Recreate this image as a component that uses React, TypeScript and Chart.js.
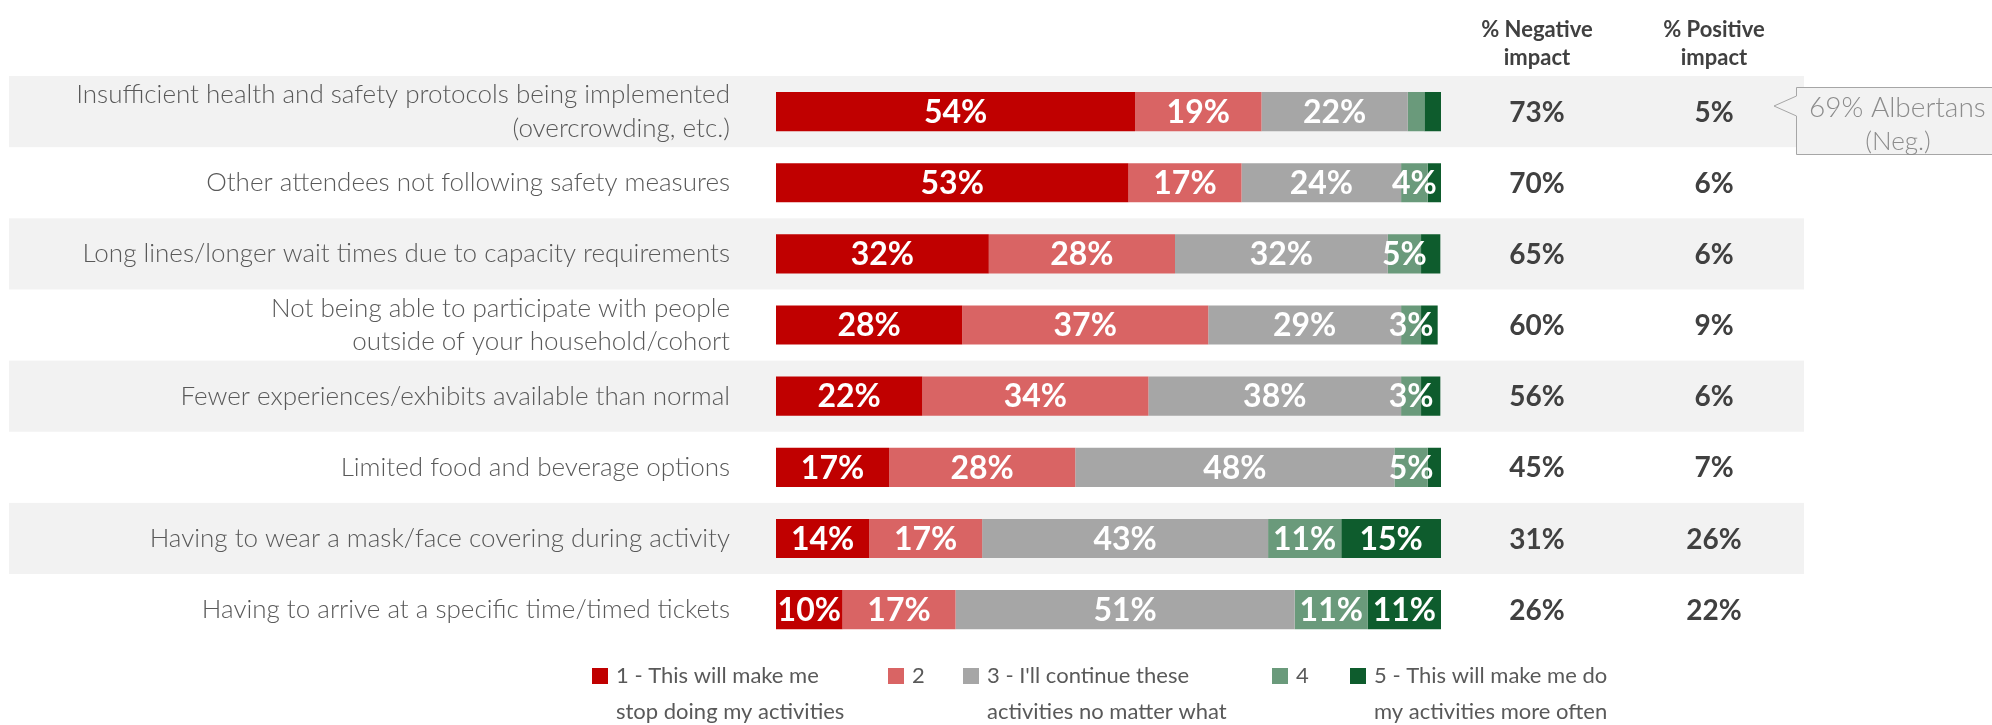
import React, { useEffect, useRef } from "react";
import { Chart, registerables } from "chart.js";

Chart.register(...registerables);

const CATEGORIES: (string | string[])[] = [
  ["Insufficient health and safety protocols being implemented", "(overcrowding, etc.)"],
  "Other attendees not following safety measures",
  "Long lines/longer wait times due to capacity requirements",
  ["Not being able to participate with people", "outside of your household/cohort"],
  "Fewer experiences/exhibits available than normal",
  "Limited food and beverage options",
  "Having to wear a mask/face covering during activity",
  "Having to arrive at a specific time/timed tickets",
];

const SCORE_1 = [54, 53, 32, 28, 22, 17, 14, 10];
const SCORE_2 = [19, 17, 28, 37, 34, 28, 17, 17];
const SCORE_3 = [22, 24, 32, 29, 38, 48, 43, 51];
const SCORE_4 = [2.5, 4, 5, 3, 3, 5, 11, 11];
const SCORE_5 = [2.5, 2, 2.9, 2.5, 2.9, 2, 15, 11];

const NEGATIVE_IMPACT = ["73%", "70%", "65%", "60%", "56%", "45%", "31%", "26%"];
const POSITIVE_IMPACT = ["5%", "6%", "6%", "9%", "6%", "7%", "26%", "22%"];

const COLUMN_HEADERS = [["% Negative", "impact"], ["% Positive", "impact"]];
const CALLOUT_LINES = ["69% Albertans", "(Neg.)"];

const SERIES_NAMES: string[][] = [
  ["1 - This will make me", "stop doing my activities"],
  ["2"],
  ["3 - I'll continue these", "activities no matter what"],
  ["4"],
  ["5 - This will make me do", "my activities more often"],
];
const SERIES_VALUES = [SCORE_1, SCORE_2, SCORE_3, SCORE_4, SCORE_5];
const SERIES_COLORS = ["#C00000", "#D96464", "#A6A6A6", "#6A9A7B", "#0E5C2D"];

// layout constants
const W = 1992;
const H = 725;
const PLOT_LEFT = 776;
const PLOT_RIGHT = 1441;
const PLOT_TOP = 76;
const PLOT_BOTTOM = 656;
const LEGEND_X = [592, 888, 963, 1272, 1350];
const NEG_COL_X = 1537;
const POS_COL_X = 1714;
const FONT = "Lato, 'Open Sans', sans-serif";

const bandsPlugin = {
  id: "bands",
  beforeDraw(chart: any) {
    const { ctx, scales } = chart;
    const y = scales.y;
    const step = (y.bottom - y.top) / CATEGORIES.length;
    ctx.save();
    ctx.fillStyle = "#F2F2F2";
    CATEGORIES.forEach((_, i) => {
      if (i % 2 !== 0) return;
      const c = y.getPixelForValue(i);
      ctx.fillRect(9, c - step / 2, 1804 - 9, step);
    });
    ctx.restore();
  },
};

const barLabelsPlugin = {
  id: "barLabels",
  afterDatasetsDraw(chart: any) {
    const { ctx } = chart;
    ctx.save();
    ctx.fillStyle = "#FFFFFF";
    ctx.font = `bold 32px ${FONT}`;
    ctx.textAlign = "center";
    ctx.textBaseline = "middle";
    chart.data.datasets.forEach((ds: any, di: number) => {
      const meta = chart.getDatasetMeta(di);
      meta.data.forEach((el: any, i: number) => {
        const v = ds.data[i];
        if (v < 3) return;
        const cx = (el.x + el.base) / 2;
        ctx.fillText(`${Math.round(v)}%`, cx, el.y + 1);
      });
    });
    ctx.restore();
  },
};

const extrasPlugin = {
  id: "extras",
  afterDraw(chart: any) {
    const { ctx, scales } = chart;
    const y = scales.y;
    ctx.save();

    // column headers
    ctx.fillStyle = "#404040";
    ctx.font = `bold 22px ${FONT}`;
    ctx.textAlign = "center";
    ctx.textBaseline = "alphabetic";
    [NEG_COL_X, POS_COL_X].forEach((x, k) => {
      ctx.fillText(COLUMN_HEADERS[k][0], x, 37);
      ctx.fillText(COLUMN_HEADERS[k][1], x, 65);
    });

    // column values
    ctx.font = `bold 28px ${FONT}`;
    ctx.textBaseline = "middle";
    CATEGORIES.forEach((_, i) => {
      const c = y.getPixelForValue(i);
      ctx.fillText(NEGATIVE_IMPACT[i], NEG_COL_X, c + 1);
      ctx.fillText(POSITIVE_IMPACT[i], POS_COL_X, c + 1);
    });

    // callout
    ctx.beginPath();
    ctx.moveTo(2000, 87.5);
    ctx.lineTo(1796.5, 87.5);
    ctx.lineTo(1796.5, 96);
    ctx.lineTo(1774, 106);
    ctx.lineTo(1796.5, 116);
    ctx.lineTo(1796.5, 154.5);
    ctx.lineTo(2000, 154.5);
    ctx.closePath();
    ctx.fillStyle = "#F2F2F2";
    ctx.fill();
    ctx.strokeStyle = "#A6A6A6";
    ctx.lineWidth = 1;
    ctx.stroke();
    ctx.fillStyle = "#8C8C8C";
    ctx.textBaseline = "alphabetic";
    ctx.textAlign = "left";
    ctx.font = `300 28px ${FONT}`;
    ctx.fillText(CALLOUT_LINES[0], 1809, 117);
    ctx.textAlign = "center";
    ctx.font = `300 26px ${FONT}`;
    ctx.fillText(CALLOUT_LINES[1], 1898, 150);

    // legend
    ctx.textAlign = "left";
    ctx.font = `22px ${FONT}`;
    SERIES_NAMES.forEach((lines, k) => {
      const x = LEGEND_X[k];
      ctx.fillStyle = SERIES_COLORS[k];
      ctx.fillRect(x, 668, 16, 16);
      ctx.fillStyle = "#595959";
      lines.forEach((t, j) => ctx.fillText(t, x + 24, 683 + j * 36));
    });

    ctx.restore();
  },
};

export default function App() {
  const ref = useRef<HTMLCanvasElement | null>(null);

  useEffect(() => {
    document.body.style.margin = "0";
    let chart: Chart | null = null;
    let cancelled = false;
    const make = () => {
      if (cancelled || !ref.current) return;
      chart = new Chart(ref.current, {
        type: "bar",
        data: {
          labels: CATEGORIES as any,
          datasets: SERIES_VALUES.map((vals, k) => ({
            label: SERIES_NAMES[k].join(" "),
            data: vals,
            backgroundColor: SERIES_COLORS[k],
            borderWidth: 0,
            categoryPercentage: 1,
            barPercentage: 0.55,
          })),
        },
        options: {
          indexAxis: "y",
          responsive: false,
          animation: false,
          devicePixelRatio: 1,
          layout: {
            padding: {
              left: 0,
              right: W - PLOT_RIGHT,
              top: PLOT_TOP,
              bottom: H - PLOT_BOTTOM,
            },
          },
          plugins: {
            legend: { display: false },
            tooltip: { enabled: false },
          },
          scales: {
            x: {
              stacked: true,
              min: 0,
              max: 100,
              display: false,
            },
            y: {
              stacked: true,
              grid: { display: false, drawTicks: false },
              border: { display: false },
              ticks: {
                color: "#595959",
                font: { family: FONT, size: 26, weight: "300", lineHeight: 1.3 },
                padding: 46,
                autoSkip: false,
              },
              afterFit(scale: any) {
                scale.width = PLOT_LEFT;
              },
            },
          },
        },
        plugins: [bandsPlugin, barLabelsPlugin, extrasPlugin],
      } as any);
    };
    const fontsReady = (document as any).fonts
      ? Promise.all([
          (document as any).fonts.load(`300 24px Lato`),
          (document as any).fonts.load(`bold 24px Lato`),
          (document as any).fonts.load(`24px Lato`),
        ]).catch(() => null)
      : Promise.resolve();
    fontsReady.then(make);
    return () => {
      cancelled = true;
      if (chart) chart.destroy();
    };
  }, []);

  return (
    <div style={{ width: W, height: H, background: "#FFFFFF" }}>
      <canvas ref={ref} width={W} height={H} style={{ display: "block" }} />
    </div>
  );
}
